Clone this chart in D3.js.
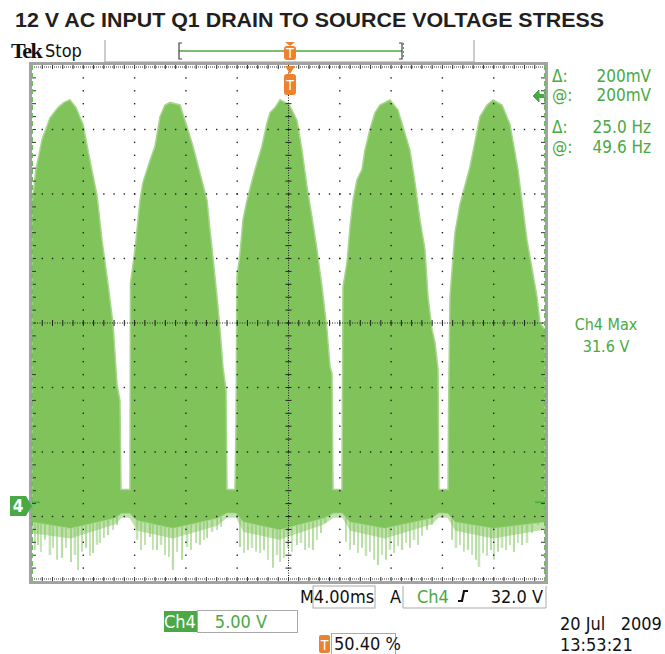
<!DOCTYPE html>
<html>
<head>
<meta charset="utf-8">
<script src="https://cdn.jsdelivr.net/npm/d3@7"></script>
<style>
  body { margin: 0; background: #fff; }
  svg { display: block; }
</style>
</head>
<body>
<div id="chart"></div>
<script>
// scope settings
const timeDomain = [0, 40];        // ms, 4.00 ms/div x 10 div
const voltsPerDiv = 5;             // Ch4 5.00 V/div
const groundDiv = 1.18;            // ground marker, divisions above bottom edge

// upper envelope of the Ch4 trace [ms, V]
const upperEnvelope = [
  [0.00, 23.3], [0.31, 26.0], [0.78, 28.3], [1.40, 30.0], [2.03, 30.8], [2.50, 31.2], [2.96, 31.4],
  [3.43, 30.8], [3.98, 29.5], [4.52, 26.7], [5.07, 24.0], [5.46, 20.5], [5.93, 17.1], [6.32, 14.0],
  [6.63, 9.3], [6.86, 8.1], [6.94, 1.2], [7.64, 1.2],
  [7.68, 17.2], [8.03, 19.8], [8.42, 23.6], [8.65, 25.0], [9.20, 26.7], [9.59, 27.8], [9.98, 30.1],
  [10.37, 31.0], [10.76, 31.2], [11.54, 31.0], [12.09, 29.3], [12.55, 27.8], [13.10, 25.7], [13.65, 23.6],
  [13.88, 21.3], [14.11, 19.2], [14.43, 16.1], [14.66, 13.6], [14.89, 10.7], [15.13, 8.9], [15.20, 1.2], [15.83, 1.2],
  [15.91, 6.4], [15.98, 17.7], [16.22, 19.5], [16.45, 22.1], [16.76, 23.6], [17.23, 25.4], [17.54, 26.5],
  [17.93, 27.8], [18.32, 29.6], [18.56, 30.4], [18.95, 30.8], [19.34, 31.4], [19.73, 31.2], [20.12, 30.9],
  [20.66, 29.8], [21.05, 27.5], [21.44, 24.7], [21.83, 22.3], [22.22, 19.8], [22.61, 16.9], [23.00, 13.6],
  [23.24, 10.7], [23.39, 10.2], [23.47, 1.2], [24.17, 1.2],
  [24.25, 16.9], [24.56, 18.8], [24.80, 21.6], [25.03, 23.6], [25.34, 25.2], [25.73, 26.0], [25.96, 27.5],
  [26.35, 29.1], [26.74, 30.4], [27.13, 31.0], [27.91, 31.4], [28.54, 30.6], [28.93, 29.3], [29.47, 27.5],
  [29.86, 25.0], [30.25, 22.1], [30.64, 19.8], [30.88, 16.1], [31.19, 13.6], [31.42, 12.6], [31.66, 10.5],
  [31.73, 1.2], [32.44, 1.2],
  [32.48, 7.4], [32.59, 16.1], [32.98, 21.1], [33.37, 23.3], [33.61, 24.2], [34.15, 26.2], [34.93, 30.1],
  [35.48, 31.0], [35.95, 31.4], [36.65, 31.0], [37.27, 29.5], [37.89, 26.0], [38.60, 20.5], [39.38, 16.1],
  [39.61, 14.1], [40.00, 13.6]
];

// dense lower edge of the trace [ms, V]
const lowerBand = [
  [0, -1.3], [3, -1.8], [6.5, -1.0], [7.0, -0.6], [7.6, -0.6], [8.2, -1.2], [11, -1.8], [14.5, -1.0],
  [15.2, -0.6], [15.9, -0.6], [16.5, -1.3], [19.3, -1.9], [22.8, -1.0], [23.5, -0.6], [24.2, -0.6],
  [24.8, -1.3], [27.5, -1.8], [31.2, -1.0], [31.7, -0.6], [32.4, -0.6], [33, -1.3], [36, -1.8], [40, -1.3]
];

// lighter ringing region below the dense band [ms, V]
const lowerSoft = [
  [0, -2.2], [3, -2.6], [6.5, -1.5], [7.0, -1.0], [7.6, -1.0], [8.2, -2.0], [11, -2.6], [14.5, -1.6],
  [15.2, -1.0], [15.9, -1.0], [16.5, -2.1], [19.3, -2.7], [22.8, -1.5], [23.5, -1.0], [24.2, -1.0],
  [24.8, -2.0], [27.5, -2.6], [31.2, -1.5], [31.7, -1.0], [32.4, -1.0], [33, -2.0], [36, -2.6], [40, -1.9]
];

// negative ringing spikes [ms, V]
const spikes = [
  [0.23, -3.49], [0.47, -3.10], [0.70, -3.64], [1.01, -2.71], [1.40, -3.88], [1.64, -3.33], [1.95, -4.26],
  [2.34, -4.11], [2.65, -3.33], [3.04, -4.42], [3.35, -3.88], [3.59, -5.04], [3.90, -3.64], [4.21, -3.33],
  [4.52, -3.95], [4.76, -3.72], [5.07, -3.10], [5.30, -2.95], [5.61, -2.56], [5.93, -2.33], [6.32, -1.94], [6.63, -1.55],
  [8.19, -2.71], [8.50, -3.49], [8.81, -3.10], [9.20, -2.48], [9.43, -3.49], [9.75, -3.49], [10.06, -3.10],
  [10.37, -3.88], [10.68, -4.03], [10.99, -5.04], [11.31, -3.64], [11.70, -4.26], [12.09, -3.26], [12.40, -3.49],
  [12.79, -2.95], [13.10, -3.10], [13.41, -2.71], [13.65, -2.56], [14.04, -2.09], [14.43, -1.94], [14.74, -1.71],
  [16.22, -3.26], [16.53, -3.72], [16.84, -3.49], [17.15, -3.33], [17.47, -3.64], [17.78, -3.72], [18.09, -3.49],
  [18.40, -4.26], [18.79, -4.88], [19.10, -3.88], [19.34, -4.42], [19.65, -4.11], [19.96, -3.33], [20.27, -3.64],
  [20.66, -3.10], [20.97, -2.95], [21.29, -3.49], [21.60, -3.33], [21.91, -3.49], [22.22, -2.71], [22.53, -2.17], [22.85, -1.40],
  [24.48, -2.87], [24.80, -3.49], [25.11, -3.10], [25.42, -3.72], [25.73, -3.33], [26.04, -3.95], [26.35, -3.64],
  [26.67, -4.26], [26.98, -4.65], [27.29, -3.88], [27.60, -4.26], [27.91, -3.49], [28.23, -3.72], [28.54, -3.18],
  [28.85, -3.49], [29.16, -2.95], [29.47, -3.33], [29.79, -2.71], [30.10, -3.10], [30.41, -2.40], [30.80, -1.94], [31.19, -1.55],
  [32.75, -2.71], [33.06, -3.33], [33.37, -3.10], [33.68, -3.64], [34.00, -3.49], [34.31, -3.88], [34.62, -4.26],
  [34.85, -4.81], [35.17, -3.72], [35.48, -3.95], [35.79, -3.49], [36.02, -4.26], [36.34, -3.64], [36.65, -3.33],
  [36.96, -3.49], [37.27, -3.10], [37.58, -3.64], [37.89, -2.95], [38.21, -3.10], [38.60, -2.95], [38.99, -2.17],
  [39.45, -1.55], [39.77, -1.16]
];

// on-screen readouts
const cursorLabels = ["\u0394:", "@:", "\u0394:", "@:"];
const cursorValues = ["200mV", "200mV", "25.0 Hz", "49.6 Hz"];
const cursorRowY = [82, 101, 133, 153];
const measureLines = ["Ch4 Max", "31.6 V"];
const dateLines = ["20 Jul   2009", "13:53:21"];

const width = 665, height = 654;
const plot = { left: 32, right: 545, top: 65, bottom: 581 };
const tekFont = "'Liberation Sans Narrow', 'DejaVu Sans Condensed', 'Arial Narrow', sans-serif";
const green = "#7fc35a";
const uiGreen = "#4aa944";
const orange = "#ee8130";

const svg = d3.select("#chart").append("svg")
  .attr("width", width)
  .attr("height", height);

// scales
const x = d3.scaleLinear().domain(timeDomain).range([plot.left, plot.right]);
const y = d3.scaleLinear()
  .domain([-groundDiv * voltsPerDiv, (8 - groundDiv) * voltsPerDiv])
  .range([plot.bottom, plot.top]);
const divX = d3.scaleLinear().domain([0, 10]).range([plot.left, plot.right]);
const divY = d3.scaleLinear().domain([0, 8]).range([plot.bottom, plot.top]);

// title
svg.append("text")
  .attr("x", 15).attr("y", 27)
  .attr("font-family", "'Liberation Sans', Arial, sans-serif")
  .attr("font-weight", "bold")
  .attr("font-size", 20)
  .attr("fill", "#231f20")
  .attr("textLength", 589)
  .attr("lengthAdjust", "spacingAndGlyphs")
  .text("12 V AC INPUT Q1 DRAIN TO SOURCE VOLTAGE STRESS");

// header: Tek Stop + record bar
svg.append("text").attr("x", 11).attr("y", 58)
  .attr("font-family", "'Liberation Serif', serif").attr("font-weight", "bold")
  .attr("font-size", 22).attr("letter-spacing", -1.5).attr("fill", "#111").text("Tek");
svg.append("text").attr("x", 45).attr("y", 57)
  .attr("font-family", tekFont).attr("font-size", 18).attr("fill", "#111").text("Stop");

const bar = svg.append("g");
bar.append("line").attr("x1", 105).attr("x2", 105).attr("y1", 40).attr("y2", 62).attr("stroke", "#9a9a9a");
bar.append("line").attr("x1", 474).attr("x2", 474).attr("y1", 40).attr("y2", 62).attr("stroke", "#9a9a9a");
bar.append("line").attr("x1", 105).attr("x2", 474).attr("y1", 62).attr("y2", 62).attr("stroke", "#9a9a9a");
bar.append("line").attr("x1", 179).attr("x2", 402).attr("y1", 51).attr("y2", 51).attr("stroke", uiGreen).attr("stroke-width", 1.5);
bar.append("path").attr("d", "M182,43 L179,43 L179,59 L182,59").attr("fill", "none").attr("stroke", "#444").attr("stroke-width", 1.2);
bar.append("path").attr("d", "M399,43 L402,43 L402,59 L399,59").attr("fill", "none").attr("stroke", "#444").attr("stroke-width", 1.2);
bar.append("line").attr("x1", 403.5).attr("x2", 403.5).attr("y1", 43).attr("y2", 59).attr("stroke", uiGreen).attr("stroke-dasharray", "2,2");

function triggerMark(g, cx, yTop, boxTop, boxH) {
  g.append("path")
    .attr("d", `M${cx - 5},${yTop} L${cx + 5},${yTop} L${cx},${yTop + (boxTop - yTop)} Z`)
    .attr("fill", orange);
  g.append("rect").attr("x", cx - 6).attr("y", boxTop).attr("width", 12).attr("height", boxH)
    .attr("rx", 3).attr("fill", orange);
  g.append("text").attr("x", cx).attr("y", boxTop + boxH / 2 + 5)
    .attr("text-anchor", "middle").attr("font-family", tekFont).attr("font-size", 14)
    .attr("fill", "#fff").text("T");
}
triggerMark(bar, 290, 42, 46, 14);

// trace
const traceG = svg.append("g");
traceG.append("clipPath").attr("id", "plotClip")
  .append("rect").attr("x", plot.left).attr("y", plot.top)
  .attr("width", plot.right - plot.left).attr("height", plot.bottom - plot.top);
const clipped = traceG.append("g").attr("clip-path", "url(#plotClip)");

clipped.append("path")
  .datum(lowerSoft)
  .attr("fill", green).attr("fill-opacity", 0.5)
  .attr("d", d3.area().x(d => x(d[0])).y0(y(0)).y1(d => y(d[1])));

// ringing spikes, widths/opacity cycle so the comb does not look uniform
const spikeW = [1.2, 2.2, 1.0, 1.7, 2.6, 1.3];
const spikeO = [0.8, 0.55, 0.9, 0.65, 0.45, 0.75];
clipped.append("g").selectAll("line")
  .data(spikes)
  .join("line")
  .attr("x1", d => x(d[0])).attr("x2", d => x(d[0]))
  .attr("y1", y(-0.5)).attr("y2", d => y(d[1]))
  .attr("stroke", green)
  .attr("stroke-opacity", (d, i) => spikeO[i % spikeO.length])
  .attr("stroke-width", (d, i) => spikeW[i % spikeW.length]);

const lowerAt = t => {
  const i = d3.bisector(d => d[0]).left(lowerBand, t);
  if (i <= 0) return lowerBand[0][1];
  if (i >= lowerBand.length) return lowerBand[lowerBand.length - 1][1];
  const a = lowerBand[i - 1], b = lowerBand[i];
  return a[1] + (b[1] - a[1]) * (t - a[0]) / (b[0] - a[0]);
};

clipped.append("path")
  .datum(upperEnvelope)
  .attr("fill", green)
  .attr("stroke", "#a6d68c").attr("stroke-width", 1.5)
  .attr("d", d3.area().x(d => x(d[0])).y0(d => y(lowerAt(d[0]))).y1(d => y(d[1])));

clipped.append("path")
  .datum(lowerBand)
  .attr("fill", green)
  .attr("d", d3.area().x(d => x(d[0])).y0(y(0)).y1(d => y(d[1])));

// graticule
const grid = svg.append("g").attr("fill", "#222");
const minorY = d3.range(1, 40).map(k => k / 5);
const minorX = d3.range(1, 50).map(k => k / 5);
[1, 2, 3, 4, 6, 7, 8, 9].forEach(i => {
  grid.selectAll(null).data(minorY).join("rect")
    .attr("x", divX(i) - 0.7).attr("y", d => divY(d) - 0.7)
    .attr("width", 1.4).attr("height", 1.4);
});
[1, 2, 3, 5, 6, 7].forEach(j => {
  grid.selectAll(null).data(minorX).join("rect")
    .attr("x", d => divX(d) - 0.7).attr("y", divY(j) - 0.7)
    .attr("width", 1.4).attr("height", 1.4);
});

// center cross with ticks
const cx = divX(5), cy = divY(4);
grid.append("line").attr("x1", cx).attr("x2", cx).attr("y1", plot.top).attr("y2", plot.bottom)
  .attr("stroke", "#222").attr("stroke-width", 1).attr("stroke-dasharray", "1,1.5");
grid.append("line").attr("x1", plot.left).attr("x2", plot.right).attr("y1", cy).attr("y2", cy)
  .attr("stroke", "#222").attr("stroke-width", 1).attr("stroke-dasharray", "1,1.5");
grid.selectAll(null).data(minorY).join("line")
  .attr("x1", cx - 3).attr("x2", cx + 3).attr("y1", d => divY(d)).attr("y2", d => divY(d))
  .attr("stroke", "#222");
grid.selectAll(null).data(minorX).join("line")
  .attr("x1", d => divX(d)).attr("x2", d => divX(d)).attr("y1", cy - 3).attr("y2", cy + 3)
  .attr("stroke", "#222");

// edge ticks
const edge = svg.append("g").attr("stroke", "#333");
edge.selectAll(null).data(minorX).join("line")
  .attr("x1", d => divX(d)).attr("x2", d => divX(d)).attr("y1", plot.top).attr("y2", plot.top + 4);
edge.selectAll(null).data(minorX).join("line")
  .attr("x1", d => divX(d)).attr("x2", d => divX(d)).attr("y1", plot.bottom).attr("y2", plot.bottom - 4);
edge.selectAll(null).data(minorY).join("line")
  .attr("x1", plot.left).attr("x2", plot.left + 4).attr("y1", d => divY(d)).attr("y2", d => divY(d));
edge.selectAll(null).data(minorY).join("line")
  .attr("x1", plot.right).attr("x2", plot.right - 4).attr("y1", d => divY(d)).attr("y2", d => divY(d));
edge.append("line").attr("x1", plot.left).attr("x2", plot.right).attr("y1", plot.top + 2).attr("y2", plot.top + 2)
  .attr("stroke-dasharray", "1,1");
edge.append("line").attr("x1", plot.left).attr("x2", plot.right).attr("y1", plot.bottom - 2).attr("y2", plot.bottom - 2)
  .attr("stroke-dasharray", "1,1");

svg.append("rect")
  .attr("x", plot.left - 1.5).attr("y", plot.top - 1.5)
  .attr("width", plot.right - plot.left + 3).attr("height", plot.bottom - plot.top + 3)
  .attr("fill", "none").attr("stroke", "#a3a3a3").attr("stroke-width", 3);

// vertical bar cursors at both edges
[plot.left, plot.right].forEach(cxv => {
  svg.append("line").attr("x1", cxv).attr("x2", cxv).attr("y1", plot.top).attr("y2", plot.bottom)
    .attr("stroke", "#6cbf5c").attr("stroke-width", 2).attr("stroke-dasharray", "5,3");
});
// horizontal cursor stubs near ground
svg.append("line").attr("x1", plot.left).attr("x2", plot.left + 8).attr("y1", y(0.2)).attr("y2", y(0.2))
  .attr("stroke", uiGreen).attr("stroke-width", 1.5);
svg.append("line").attr("x1", plot.right - 10).attr("x2", plot.right).attr("y1", y(0.2)).attr("y2", y(0.2))
  .attr("stroke", uiGreen).attr("stroke-width", 1.5);

// trigger position marker below graticule top
triggerMark(svg.append("g"), 290, 66, 74, 21);

// ground marker "4"
const gy = y(0) + 1;
svg.append("path")
  .attr("d", `M10,${gy - 10} L26,${gy - 10} L32,${gy} L26,${gy + 10} L10,${gy + 10} Z`)
  .attr("fill", uiGreen);
svg.append("text").attr("x", 18).attr("y", gy + 6).attr("text-anchor", "middle")
  .attr("font-family", tekFont).attr("font-size", 17).attr("font-weight", "bold")
  .attr("fill", "#fff").text("4");

// cursor readouts
const ro = svg.append("g").attr("font-family", tekFont).attr("font-size", 17).attr("fill", uiGreen);
ro.selectAll(null).data(cursorLabels).join("text")
  .attr("x", 552).attr("y", (d, i) => cursorRowY[i]).text(d => d);
ro.selectAll(null).data(cursorValues).join("text")
  .attr("x", 651).attr("y", (d, i) => cursorRowY[i]).attr("text-anchor", "end").text(d => d);
svg.append("path")
  .attr("d", "M533,96 L539,90 L539,102 Z M539,94.5 L544,94.5 L544,97.5 L539,97.5 Z M545,89 L545,103")
  .attr("fill", uiGreen).attr("stroke", uiGreen).attr("stroke-width", 1);

ro.selectAll(null).data(measureLines).join("text")
  .attr("x", 606).attr("y", (d, i) => 330 + i * 22).attr("text-anchor", "middle")
  .attr("font-size", 16).text(d => d);

// bottom status line
const st = svg.append("g").attr("font-family", tekFont).attr("font-size", 18);
st.append("text").attr("x", 300).attr("y", 603).attr("fill", "#111").text("M");
st.append("rect").attr("x", 313).attr("y", 586).attr("width", 62).attr("height", 22)
  .attr("fill", "none").attr("stroke", "#aaa");
st.append("text").attr("x", 344).attr("y", 603).attr("text-anchor", "middle").attr("fill", "#111").text("4.00ms");
st.append("text").attr("x", 390).attr("y", 603).attr("fill", "#111").text("A");
st.append("path").attr("d", "M403,586 L403,608 L546,608 L546,586")
  .attr("fill", "none").attr("stroke", "#aaa");
st.append("text").attr("x", 417).attr("y", 603).attr("fill", uiGreen).text("Ch4");
st.append("path").attr("d", "M458,601 L462,601 L464,591 L468,591")
  .attr("fill", "none").attr("stroke", "#111").attr("stroke-width", 2.2);
st.append("text").attr("x", 543).attr("y", 603).attr("text-anchor", "end").attr("fill", "#111").text("32.0 V");

st.append("rect").attr("x", 164).attr("y", 611).attr("width", 33).attr("height", 21).attr("fill", uiGreen);
st.append("text").attr("x", 180).attr("y", 628).attr("text-anchor", "middle").attr("fill", "#fff").text("Ch4");
st.append("rect").attr("x", 197.5).attr("y", 610.5).attr("width", 100).attr("height", 22)
  .attr("fill", "none").attr("stroke", "#aaa");
st.append("text").attr("x", 241).attr("y", 628).attr("text-anchor", "middle").attr("fill", uiGreen).text("5.00 V");

st.append("rect").attr("x", 319).attr("y", 635).attr("width", 11).attr("height", 18).attr("rx", 2).attr("fill", orange);
st.append("text").attr("x", 324.5).attr("y", 650).attr("text-anchor", "middle").attr("font-size", 14)
  .attr("fill", "#fff").text("T");
st.append("rect").attr("x", 331.5).attr("y", 633.5).attr("width", 64).attr("height", 22)
  .attr("fill", "none").attr("stroke", "#aaa");
st.append("text").attr("x", 334).attr("y", 650).attr("fill", "#111").text("50.40 %");

st.selectAll(null).data(dateLines).join("text")
  .attr("x", 560).attr("y", (d, i) => 630 + i * 21).attr("fill", "#111")
  .attr("xml:space", "preserve").style("white-space", "pre").text(d => d);
</script>
</body>
</html>
